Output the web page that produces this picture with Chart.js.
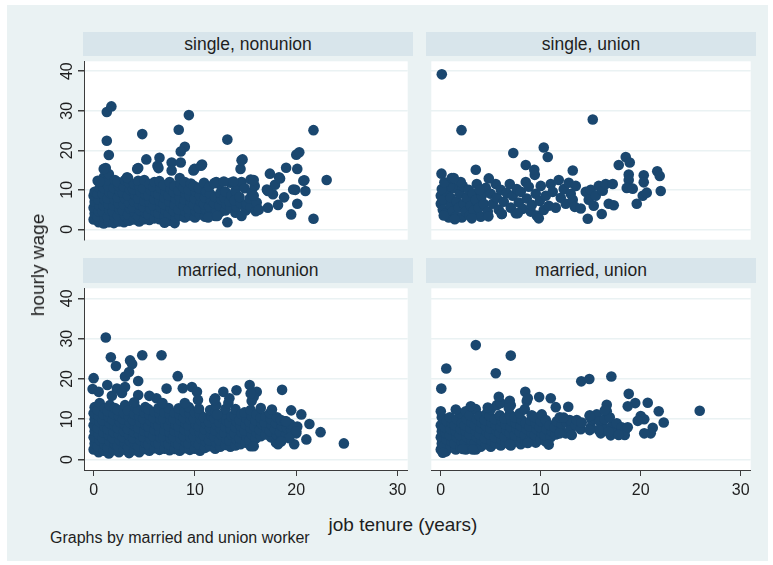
<!DOCTYPE html>
<html>
<head>
<meta charset="utf-8">
<script src="https://cdn.jsdelivr.net/npm/chart.js@4.4.1/dist/chart.umd.min.js"></script>
<style>
  body { margin: 0; background: #fff; font-family: Arial, "Liberation Sans", sans-serif; color: #1e1e1e; }
  #page { position: relative; width: 773px; height: 565px; overflow: hidden; }
  #bg { position: absolute; left: 7px; top: 5px; width: 761px; height: 556px; background: #eaf2f3; }
  .hdr { position: absolute; height: 25px; line-height: 25px; background: #d8e5eb; text-align: center; font-size: 17.5px; }
  canvas { position: absolute; }
  .txt { position: absolute; white-space: nowrap; }
</style>
</head>
<body>
<div id="page">
  <div id="bg"></div>
  <div class="hdr" id="h0" style="left:83px; top:32px; width:330px; height:24px; line-height:24px;"></div>
  <div class="hdr" id="h1" style="left:426px; top:32px; width:330px; height:24px; line-height:24px;"></div>
  <div class="hdr" id="h2" style="left:83px; top:258px; width:330px;"></div>
  <div class="hdr" id="h3" style="left:426px; top:258px; width:330px;"></div>
  <canvas id="c0" width="383" height="189" style="left:30px; top:56px;"></canvas>
  <canvas id="c1" width="330" height="189" style="left:426px; top:56px;"></canvas>
  <canvas id="c2" width="383" height="217" style="left:30px; top:283px;"></canvas>
  <canvas id="c3" width="330" height="217" style="left:426px; top:283px;"></canvas>
  <div class="txt" style="left:38px; top:265px; font-size:19px; transform: translate(-50%, -50%) rotate(-90deg);">hourly wage</div>
  <div class="txt" style="left:403px; top:525px; font-size:19px; transform: translate(-50%, -50%);">job tenure (years)</div>
  <div class="txt" style="left:50px; top:538px; font-size:16px; transform: translateY(-50%);">Graphs by married and union worker</div>
</div>
<script>
const xTicks = [0, 10, 20, 30];
const yTicks = [0, 10, 20, 30, 40];
const panelTitles = ['single, nonunion', 'single, union', 'married, nonunion', 'married, union'];

// job tenure (years), hourly wage
const singleNonunion = [
  [0,2.5],[0.1,4],[0,5.5],[0.1,7],[0,8.5],[0.1,9.5],
  [0.5,1.8],[0.4,3.2],[0.5,4.6],[0.6,6],[0.5,7.5],[0.4,9],[0.6,10.5],[0.4,12.3],
  [1,1.5],[1.1,3],[0.9,4.5],[1,6],[1.1,7.5],[0.9,9],[1,10.5],[1.1,12],[1,13.2],
  [1.5,1.8],[1.4,3.2],[1.6,4.8],[1.5,6.3],[1.4,7.8],[1.6,9.2],[1.5,10.8],[1.4,12.3],[1.5,14],
  [2,1.6],[2.1,3],[1.9,4.5],[2,6],[2.1,7.5],[1.9,9],[2,10.5],[2.1,12.5],
  [2.5,2],[2.4,3.5],[2.6,5],[2.5,6.5],[2.4,8],[2.6,9.5],[2.5,11],[2.4,12],
  [3,1.8],[3.1,3.3],[2.9,4.8],[3,6.3],[3.1,7.8],[2.9,9.3],[3,10.8],[3.1,12.5],
  [3.5,2.2],[3.4,3.8],[3.6,5.3],[3.5,6.8],[3.4,8.5],[3.6,10],[3.5,11.8],[3.4,13],
  [4,2.5],[4.1,4],[3.9,5.5],[4,7],[4.1,8.7],[3.9,10.2],[4,11.5],
  [4.5,2],[4.4,3.3],[4.6,4.8],[4.5,6.3],[4.4,7.8],[4.6,9.5],[4.5,11],[4.4,12.3],
  [5,2.6],[5.1,4.2],[4.9,5.7],[5,7.2],[5.1,8.8],[4.9,10.4],[5,12.5],
  [5.5,2.4],[5.4,3.8],[5.6,5.3],[5.5,7],[5.4,8.5],[5.6,10],[5.5,11.5],
  [6,2.8],[6.1,4.4],[5.9,6],[6,7.6],[6.1,9.2],[5.9,10.8],[6,12],
  [6.5,2.6],[6.4,4],[6.6,5.6],[6.5,7.2],[6.4,8.8],[6.6,10.4],[6.5,12.2],
  [7,3.2],[7.1,4.8],[6.9,6.4],[7,8],[7.1,9.6],[6.9,11.2],
  [7.5,2.2],[7.4,3.8],[7.6,5.4],[7.5,7],[7.4,8.6],[7.6,10.2],[7.5,12],
  [8,1.6],[8.1,3],[7.9,4.6],[8,6.2],[8.1,7.8],[7.9,9.4],[8,11],
  [8.5,3.4],[8.4,5],[8.6,6.6],[8.5,8.2],[8.4,9.8],[8.6,11.5],[8.5,13],
  [9,3],[9.1,4.5],[8.9,6],[9,7.5],[9.1,9],[8.9,10.5],[9,12],
  [9.5,3.5],[9.4,5.2],[9.6,6.8],[9.5,8.4],[9.4,10],[9.6,11.6],
  [10,3],[10.1,4.6],[9.9,6.2],[10,7.8],[10.1,9.5],[9.9,11],
  [10.5,3.8],[10.4,5.4],[10.6,7],[10.5,8.6],[10.4,10.5],
  [11,3.2],[11.1,4.8],[10.9,6.4],[11,8],[11.1,9.6],[10.9,11.8],
  [11.5,4.2],[11.4,5.8],[11.6,7.4],[11.5,9],[11.4,10.8],
  [12,3.4],[12.1,5],[11.9,6.6],[12,8.2],[12.1,12],
  [12.5,4.4],[12.4,6],[12.6,7.6],[12.5,9.2],[12.4,11.5],
  [13,4.8],[13.1,6.4],[12.9,8],[13,9.6],
  [13.5,5.4],[13.4,7],[13.6,8.6],[13.5,11.8],
  [14,4.2],[14.1,5.8],[13.9,7.4],[14,9.8],[14.1,11.4],
  [14.5,6.6],[14.4,8.2],[14.6,12],
  [15,4.8],[15.1,6.4],[14.9,10.4],
  [15.5,5.6],[15.4,7.8],[15.6,9.4],[15.5,12.6],
  [16,4.6],[16.1,6.8],[15.9,11],
  [1.3,29.7],[1.75,31.1],[1.3,22.4],[1.5,18.8],[4.8,24.1],[8.4,25.2],[9.4,28.9],[9,20.9],[8.6,19.7],
  [10.7,16.4],[9.95,15.3],[6.5,18.1],[5.2,17.7],[1.2,15.5],[4.4,15.5],[7.7,16.9],[8.6,16.9],[6.3,16.1],
  [3.3,13.2],[11.9,11.7],[12.85,12.1],[13.8,12.1],[13.2,22.7],[14.7,17.7],[14.5,15.3],[15.8,12.5],
  [17.4,14.1],[18.3,13.2],[19,15.6],[20,18.9],[20.3,19.5],[21.7,25.1],[23,12.5],[21.7,2.7],[19.5,3.8],
  [20.1,15.3],[20.1,6.5],[20.9,9.7],[20.8,12.4],[19.9,10],[18.8,8.1],[18.2,6.2],[17.2,5.5],[16.3,5],
  [15.8,8.5],[17.1,10.1],[17.7,8.9],[14.6,3.4],[13.2,1.8],[11.3,3],[12.2,3.4],[7,1.7],[9.85,14.9],
  [10.6,16.1],[6.4,15.5],[7.7,14.9],[14.6,17.5],[4.3,15.3],[1,15.3],[0.6,12.1],[17.9,11.3],[17.2,9.7],
  [18.4,12.9],[20.7,12.3],[19.7,10.1]
];

const singleUnion = [
  [0,8.5],[0,6.5],[0.2,5],[0.3,7.5],[0.5,4],[0.6,9.5],[0.8,3],[1,6],[1,8],[1.2,4.5],[1.3,10.5],
  [1.5,3.2],[1.6,7],[1.8,5.5],[1.9,9],[2.1,3],[2.2,11],[2.3,6.5],[2.5,4.5],[2.6,8],[2.8,10],
  [2.9,3.5],[3,6],[3.2,9],[3.3,4.8],[3.5,7.5],[3.6,11.5],[3.8,5.5],[4,3.2],[4.1,8.5],[4.3,6.5],
  [4.5,10.5],[4.7,4.5],[0.3,3.5],[0.9,11],[1.4,2.6],[2,12],[3.1,2.8],[3.9,10],[0.1,10.2],
  [5,9],[5.2,6.5],[5.5,11.5],[5.6,8],[5.8,5],[6,10],[6.1,3.9],[6.3,7],[6.6,9.2],[7,5.5],
  [7.2,8.5],[7.5,4.1],[7.6,10.2],[7.8,6.8],[8,9.5],[8.2,5.2],[8.5,12],[8.6,7.8],[8.8,10.8],
  [9,4.5],[9.1,6.2],[9.4,13.8],[9.5,9],[9.6,3.5],[9.8,2.8],[9.9,7.2],[10,11],[10.3,4.9],
  [10.5,8.5],[10.8,6],[11,11.5],[11.2,9.5],[11.5,5.5],[11.8,12.5],[12,8],[12.3,10.2],[12.5,6.5],
  [12.8,11.8],[13,9],[13.2,7.5],[13.4,5.7],[13.5,11],[14,5.3],[14.5,9.5],[14.7,2.7],[14.8,7.5],
  [15,10],[15.3,6],[15.5,8.5],[15.8,11],[16.1,3.9],[16.2,9.8],[16.5,11.5],[16.8,6.5],[17.2,11.5],
  [17.3,6.1],[18.8,13.9],[18.8,12.5],[18.6,10.5],[19.2,10.3],[19.6,6.5],[20.2,8.5],[20.6,9.3],
  [20.3,13.7],[20.3,11.9],[21.65,14.7],[21.9,13.5],[22,9.7],
  [0.1,39.2],[2.07,25.1],[15.2,27.8],[7.25,19.3],[10.3,20.7],[10.7,18.3],[8.5,16.3],[9.35,15.1],
  [3.5,15.1],[13.2,14.9],[17.8,16.3],[18.5,18.3],[18.9,16.9],[0.07,14.1],[0.36,11.9],[1.1,13],
  [1.3,13],[4.8,12.9],[6.9,11.5],[4.76,3.3],[6.1,3.9],[7.7,4.1]
];

const marriedNonunion = [
  [0,2.5],[0.1,4],[0,5.5],[0.1,7],[0,8.5],[0.1,10],[0,11.5],[0.1,13],
  [0.5,1.8],[0.4,3.3],[0.6,4.8],[0.5,6.3],[0.4,7.8],[0.6,9.3],[0.5,10.8],[0.4,12.3],[0.6,14],
  [1,2.2],[1.1,3.7],[0.9,5.2],[1,6.7],[1.1,8.2],[0.9,9.7],[1,11.2],[1.1,12.7],
  [1.5,1.5],[1.4,3],[1.6,4.5],[1.5,6],[1.4,7.5],[1.6,9],[1.5,10.5],[1.4,12],[1.6,13.5],
  [2,2.3],[2.1,3.8],[1.9,5.3],[2,6.8],[2.1,8.3],[1.9,9.8],[2,11.3],[2.1,12.8],
  [2.5,1.8],[2.4,3.3],[2.6,4.8],[2.5,6.3],[2.4,7.8],[2.6,9.3],[2.5,10.8],[2.4,12.3],
  [3,2.5],[3.1,4],[2.9,5.5],[3,7],[3.1,8.5],[2.9,10],[3,11.5],[3.1,13.5],
  [3.5,1.6],[3.4,3.1],[3.6,4.6],[3.5,6.1],[3.4,7.6],[3.6,9.1],[3.5,10.6],[3.4,12.1],
  [4,2.3],[4.1,3.8],[3.9,5.3],[4,6.8],[4.1,8.3],[3.9,9.8],[4,11.3],[4.1,13],
  [4.5,1.8],[4.4,3.3],[4.6,4.8],[4.5,6.3],[4.4,7.8],[4.6,9.3],[4.5,10.8],[4.4,12.3],
  [5,2.6],[5.1,4.1],[4.9,5.6],[5,7.1],[5.1,8.6],[4.9,10.1],[5,11.6],[5.1,13],
  [5.5,2.2],[5.4,3.7],[5.6,5.2],[5.5,6.7],[5.4,8.2],[5.6,9.7],[5.5,11.2],[5.4,12.5],
  [6,2.8],[6.1,4.3],[5.9,5.8],[6,7.3],[6.1,8.8],[5.9,10.3],[6,11.8],
  [6.5,2.4],[6.4,3.9],[6.6,5.4],[6.5,6.9],[6.4,8.4],[6.6,9.9],[6.5,11.4],[6.4,12.8],
  [7,2.7],[7.1,4.2],[6.9,5.7],[7,7.2],[7.1,8.7],[6.9,10.2],[7,11.7],
  [7.5,2.3],[7.4,3.8],[7.6,5.3],[7.5,6.8],[7.4,8.3],[7.6,9.8],[7.5,11.3],[7.4,12.8],
  [8,2.6],[8.1,4.1],[7.9,5.6],[8,7.1],[8.1,8.6],[7.9,10.1],[8,11.6],
  [8.5,2.2],[8.4,3.7],[8.6,5.2],[8.5,6.7],[8.4,8.2],[8.6,9.7],[8.5,11.2],[8.4,12.7],
  [9,2.8],[9.1,4.3],[8.9,5.8],[9,7.3],[9.1,8.8],[8.9,10.3],[9,11.8],
  [9.5,2.4],[9.4,3.9],[9.6,5.4],[9.5,6.9],[9.4,8.4],[9.6,9.9],[9.5,11.4],[9.4,13],
  [10,2.7],[10.1,4.2],[9.9,5.7],[10,7.2],[10.1,8.7],[9.9,10.2],[10,11.7],
  [10.5,2.2],[10.4,3.7],[10.6,5.2],[10.5,6.7],[10.4,8.2],[10.6,9.7],[10.5,11.2],[10.4,12.6],
  [11,2.9],[11.1,4.4],[10.9,5.9],[11,7.4],[11.1,8.9],[10.9,10.4],
  [11.5,3.3],[11.4,4.8],[11.6,6.3],[11.5,7.8],[11.4,9.3],[11.6,10.8],[11.5,12.3],
  [12,2.7],[12.1,4.2],[11.9,5.7],[12,7.2],[12.1,8.7],[11.9,10.2],[12,11.7],[12.1,13.5],
  [12.5,3.2],[12.4,4.7],[12.6,6.2],[12.5,7.7],[12.4,9.2],[12.6,10.7],
  [13,3.6],[13.1,5.1],[12.9,6.6],[13,8.1],[13.1,9.6],[12.9,11.1],[13,12.5],
  [13.5,3.2],[13.4,4.7],[13.6,6.2],[13.5,7.7],[13.4,9.2],[13.6,10.7],
  [14,3.5],[14.1,5],[13.9,6.5],[14,8],[14.1,9.5],[13.9,11],[14,12.5],
  [14.5,3.8],[14.4,5.3],[14.6,6.8],[14.5,8.3],[14.4,9.8],[14.6,11.3],
  [15,4.2],[15.1,5.7],[14.9,7.2],[15,8.7],[15.1,10.2],[14.9,11.7],
  [15.5,3.3],[15.4,4.8],[15.6,6.3],[15.5,7.8],[15.4,9.3],[15.6,10.8],[15.5,12.3],[15.6,14.5],
  [16,5.2],[16.1,6.7],[15.9,8.2],[16,9.7],[16.1,11.2],
  [16.5,5.8],[16.4,7.3],[16.6,8.8],[16.5,10.3],
  [17,6.2],[17.1,7.7],[16.9,9.2],[17,10.7],
  [17.5,5.5],[17.4,7],[17.6,8.5],[17.5,10],[17.4,11.5],
  [18,4.2],[18.1,6],[17.9,7.5],[18,9],[18.1,10.5],
  [18.5,5],[18.4,6.8],[18.6,8.3],[18.5,9.8],
  [19,6.2],[19.1,7.8],[18.9,9.5],
  [19.5,7.5],[19.4,8.8],[20,6.5],[20.1,8.2],
  [1.2,30.3],[1.7,25.4],[2.2,23.2],[3.6,24.6],[3.8,23.7],[4.8,25.9],[6.7,25.9],[3.1,20.6],[3.5,21.7],
  [4.4,19.5],[8.3,20.7],[0,20.2],[-0.1,17.5],[1.35,18.5],[2.3,17.6],[3.1,18],[4.4,16],[6.2,15.2],
  [7.2,17.6],[8.8,17.7],[9.7,18],[10.2,16.8],[10.3,14.8],[12,15.2],[12.8,16.8],[14.1,17.2],[13.4,15.2],
  [11.9,14.8],[15.4,18.5],[16.1,16.8],[15.8,15.6],[15.5,16.4],[18.6,17.3],[17.6,12.4],[19.5,12.2],
  [20.5,11.2],[21.3,8.8],[22.4,6.8],[24.7,4],[21,5],[19.8,3.8],[18.2,3.8],[15.8,3.3],[12.2,11.2],
  [5.5,15.8],[2.8,16.5],[1.8,15.8],[0.5,16.8],[9,14],[4,14.2],[6.8,14],[13.3,14],[16.5,12.8],
  [19,9.5],[20,7],[19.3,5.3],[18.5,4.5]
];

const marriedUnion = [
  [0,2.5],[0.1,4],[0,5.5],[0.1,7],[0,8.5],[0.1,10.5],
  [0.5,2],[0.4,3.5],[0.6,5],[0.5,6.5],[0.4,8],[0.6,9.5],
  [1,3],[1.1,4.5],[0.9,6],[1,7.5],[1.1,9],[0.9,10.5],
  [1.5,2.5],[1.4,4],[1.6,5.5],[1.5,7],[1.4,8.5],[1.6,10],
  [2,3],[2.1,4.5],[1.9,6],[2,7.5],[2.1,9],[1.9,11.5],
  [2.5,2.5],[2.4,4],[2.6,5.5],[2.5,7],[2.4,8.5],[2.6,10],[2.5,12],
  [3,3.2],[3.1,4.7],[2.9,6.2],[3,7.7],[3.1,9.2],[2.9,11],
  [3.5,2.5],[3.4,4],[3.6,5.5],[3.5,7],[3.4,8.5],[3.6,10],[3.5,12.5],
  [4,3.2],[4.1,4.7],[3.9,6.2],[4,7.7],[4.1,9.2],[3.9,10.8],
  [4.5,3.8],[4.4,5.3],[4.6,6.8],[4.5,8.3],[4.4,9.8],[4.6,11.5],
  [5,3.2],[5.1,4.7],[4.9,6.2],[5,7.7],[5.1,9.2],[4.9,10.8],[5,12.5],
  [5.5,4],[5.4,5.5],[5.6,7],[5.5,8.5],[5.4,10],[5.6,13.5],
  [6,3.5],[6.1,5],[5.9,6.5],[6,8],[6.1,9.5],[5.9,11],[6,14],
  [6.5,4.2],[6.4,5.7],[6.6,7.2],[6.5,8.7],[6.4,10.2],
  [7,3.5],[7.1,5],[6.9,6.5],[7,8],[7.1,9.5],[6.9,11.2],[7,13.5],
  [7.5,4.5],[7.4,6],[7.6,7.5],[7.5,9],[7.4,10.5],
  [8,3.8],[8.1,5.3],[7.9,6.8],[8,8.3],[8.1,9.8],[7.9,11.5],
  [8.5,4.5],[8.4,6],[8.6,7.5],[8.5,9],[8.4,12.5],[8.6,14.5],
  [9,5.2],[9.1,6.7],[8.9,8.2],[9,9.7],[9.1,11],
  [9.5,4.2],[9.4,6],[9.6,7.5],[9.5,9],[9.4,10.5],
  [10,5],[10.1,6.5],[9.9,8],[10,9.5],[10.1,11.2],
  [10.5,4.5],[10.4,6],[10.6,7.5],[10.5,9.8],
  [11,5.5],[11.1,7],[10.9,8.5],
  [11.5,6.2],[11.4,8],[11.6,9.5],
  [12,7],[12.1,8.8],[11.9,10.5],
  [12.5,6.5],[12.6,9.2],[13,7.5],[12.9,9.8],[13.5,8.5],[13.6,9.8],[14,7.5],[14.1,9.2],
  [15,8],[15.1,9.8],[14.9,11],[15.5,10],[15.6,11.2],
  [16,6.5],[16.1,8.5],[15.9,9.5],[16.5,7.5],[16.4,10],[16.6,12],
  [17,6],[17.1,8.2],[16.9,10.5],[17.5,7],[17.6,9],[18,6.5],[18.1,8],[18.5,7.5],
  [20,10.8],[20.35,10],[19.7,9.6],[21.2,7.9],[21,6.5],[20.35,6.5],
  [3.5,28.4],[7,25.8],[0.55,22.6],[5.5,21.4],[0.05,17.6],[14.05,19.4],[14.86,20],[17.06,20.6],
  [8.45,16.8],[8.7,15.2],[5.8,15.6],[6.9,14.6],[6.8,12.8],[9.84,15.5],[11,15.2],[11.5,13],[12.75,13.1],
  [18.8,16.3],[16.6,13.6],[16.4,12.2],[19.45,14],[18.7,13.2],[20.7,14.1],[21.8,12],[22.3,9.2],
  [25.9,12.1],[18.4,6.1],[17.8,6.1],[18.7,8],[15.8,7.3],[16.8,6.9],[14.9,7.3],[14.9,10.8],[13.1,6.1],
  [12.3,10.4],[11.9,6.5],[10.8,3.7],[8.7,4.1],[6.9,3.7],[3.2,2.5],[2.2,2.6],[0.2,1.7],[0,12],
  [4.7,12.9],[3,13.2],[1.5,12.4]
];

const navy = '#1a476f';
const axisColor = '#3c3c3c';
const gridColor = '#eaf2f3';

const plotBg = {
  id: 'plotBg',
  beforeDraw(chart) {
    const a = chart.chartArea;
    const c = chart.ctx;
    c.save();
    c.fillStyle = '#ffffff';
    c.fillRect(a.left, a.top, a.right - a.left, a.bottom - a.top);
    c.restore();
  }
};

// y tick labels in Stata are turned 90 degrees
const yLabels = {
  id: 'yLabels',
  afterDraw(chart, args, opts) {
    if (!opts.show) return;
    const s = chart.scales.y;
    const c = chart.ctx;
    c.save();
    c.font = '16px Arial, "Liberation Sans", sans-serif';
    c.fillStyle = '#1e1e1e';
    c.textAlign = 'center';
    c.textBaseline = 'middle';
    yTicks.forEach(v => {
      c.save();
      c.translate(opts.x, s.getPixelForValue(v));
      c.rotate(-Math.PI / 2);
      c.fillText(String(v), 0, 0);
      c.restore();
    });
    c.restore();
  }
};

const panels = [
  {id: 'c0', data: singleNonunion, left: true, bottom: false},
  {id: 'c1', data: singleUnion, left: false, bottom: false},
  {id: 'c2', data: marriedNonunion, left: true, bottom: true},
  {id: 'c3', data: marriedUnion, left: false, bottom: true}
];

panels.forEach((p, i) => {
  document.getElementById('h' + i).textContent = panelTitles[i];
  new Chart(document.getElementById(p.id).getContext('2d'), {
    type: 'scatter',
    data: {
      datasets: [{
        data: p.data.map(d => ({x: d[0], y: d[1]})),
        backgroundColor: navy,
        borderWidth: 0,
        pointRadius: 5.3,
        pointHoverRadius: 5.3
      }]
    },
    options: {
      responsive: false,
      animation: false,
      events: [],
      layout: {padding: 0},
      plugins: {
        legend: {display: false},
        tooltip: {enabled: false},
        yLabels: {show: p.left, x: 38}
      },
      scales: {
        x: {
          type: 'linear',
          display: p.bottom,
          min: -0.95,
          max: 31,
          afterBuildTicks: s => { s.ticks = xTicks.map(v => ({value: v})); },
          afterFit: s => { s.height = p.bottom ? 30 : 0; },
          grid: {drawOnChartArea: false, drawTicks: true, tickLength: 6, tickColor: axisColor},
          border: {display: true, color: axisColor, width: 1},
          ticks: {padding: 5, color: '#1e1e1e', font: {size: 16, family: 'Arial, "Liberation Sans", sans-serif'}, maxRotation: 0}
        },
        y: {
          type: 'linear',
          min: -2.6,
          max: 42.5,
          afterBuildTicks: s => { s.ticks = yTicks.map(v => ({value: v})); },
          afterFit: s => { s.width = p.left ? 54 : 0; },
          grid: {color: gridColor, lineWidth: 1.5, drawTicks: p.left, tickLength: 6, tickColor: axisColor},
          border: {display: p.left, color: axisColor, width: 1},
          ticks: {display: false}
        }
      }
    },
    plugins: [plotBg, yLabels]
  });
});
</script>
</body>
</html>
